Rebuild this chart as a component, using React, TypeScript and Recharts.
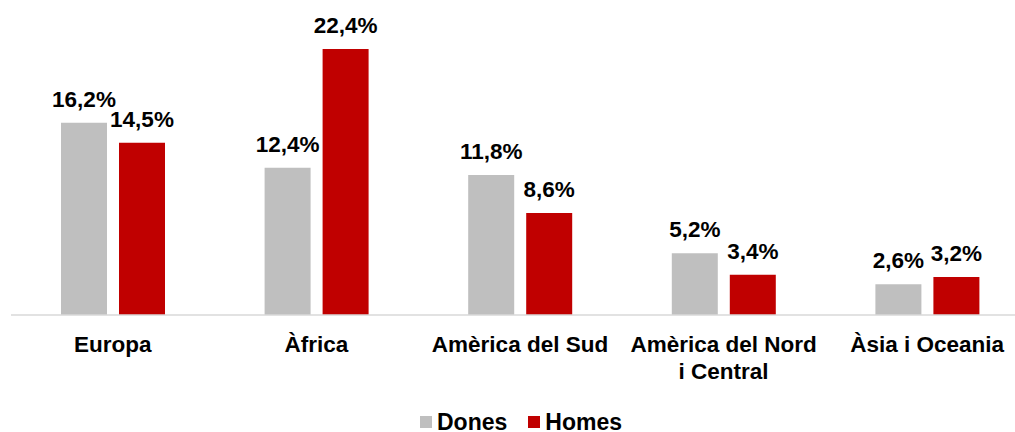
import { BarChart, Bar, XAxis, YAxis, Legend, LabelList } from 'recharts'

const categories = ['Europa', 'Àfrica', 'Amèrica del Sud', 'Amèrica del Nord\ni Central', 'Àsia i Oceania']
const dones = [16.2, 12.4, 11.8, 5.2, 2.6]
const homes = [14.5, 22.4, 8.6, 3.4, 3.2]

const data = categories.map((name, i) => ({ name, dones: dones[i], homes: homes[i] }))

const FONT = 'Arial, "Liberation Sans", sans-serif'
const GREY = '#bfbfbf'
const RED = '#c00000'

const fmt = (v: any) => Number(v).toFixed(1).replace('.', ',') + '%'

function CategoryTick(props: any) {
  const { x, y, payload } = props
  const lines = String(payload.value).split('\n')
  return (
    <text x={x} y={y} textAnchor="middle" fontFamily={FONT} fontSize={22.5} fontWeight="bold" fill="#000">
      {lines.map((line, i) => (
        <tspan key={i} x={x} dy={i === 0 ? 37 : 27}>
          {line}
        </tspan>
      ))}
    </text>
  )
}

function LegendContent(props: any) {
  const items = props.payload || []
  return (
    <div style={{ display: 'flex', alignItems: 'center', height: 18, paddingLeft: 409, fontFamily: FONT }}>
      {items.map((item: any, i: number) => (
        <div key={i} style={{ display: 'flex', alignItems: 'center', marginRight: 21, height: 18 }}>
          <span style={{ width: 12, height: 12, background: item.color, marginRight: 5, display: 'inline-block' }} />
          <span style={{ fontSize: 23, fontWeight: 'bold', color: '#000', lineHeight: '18px' }}>{item.value}</span>
        </div>
      ))}
    </div>
  )
}

export default function App() {
  return (
    <div style={{ position: 'absolute', left: 0, top: 0, width: 1015, height: 432, overflow: 'hidden' }}>
      <div style={{ position: 'absolute', left: 8, top: 8 }}>
        <BarChart
          width={1022}
          height={424}
          data={data}
          margin={{ top: 22, right: 1, left: 3, bottom: 0 }}
          barSize={46}
          barGap={12}
        >
          <YAxis hide domain={[0, 24]} />
          <XAxis
            dataKey="name"
            height={99}
            interval={0}
            tickLine={false}
            tickSize={0}
            tickMargin={0}
            axisLine={{ stroke: '#d9d9d9', strokeWidth: 1.5 }}
            tick={<CategoryTick />}
          />
          <Legend content={<LegendContent />} wrapperStyle={{ top: 405, bottom: 'auto', left: 3, height: 18 }} />
          <Bar dataKey="dones" name="Dones" fill={GREY} isAnimationActive={false}>
            <LabelList
              dataKey="dones"
              position="top"
              offset={16}
              formatter={fmt}
              style={{ fontFamily: FONT, fontSize: 22.5, fontWeight: 'bold', fill: '#000' }}
            />
          </Bar>
          <Bar dataKey="homes" name="Homes" fill={RED} isAnimationActive={false}>
            <LabelList
              dataKey="homes"
              position="top"
              offset={16}
              formatter={fmt}
              style={{ fontFamily: FONT, fontSize: 22.5, fontWeight: 'bold', fill: '#000' }}
            />
          </Bar>
        </BarChart>
      </div>
    </div>
  )
}
